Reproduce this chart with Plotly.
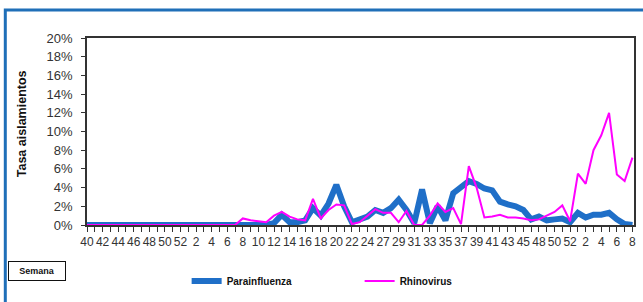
import plotly.graph_objects as go

weeks = list(range(40, 53)) + list(range(1, 25)) + [26] + list(range(27, 46)) + [47] + list(range(48, 53)) + list(range(1, 9))

parainfluenza = [0]*24 + [
    0.2, 1.1, 0.3, 0.3, 0.5, 1.8, 1.0, 2.3, 4.3, 2.0,
    0.3, 0.6, 0.9, 1.6, 1.3, 1.8, 2.7, 1.6, 0.2, 3.8,
    0.2, 2.0, 0.5, 3.4, 4.0, 4.7, 4.4, 3.9, 3.7, 2.5,
    2.2, 2.0, 1.6, 0.6, 0.9, 0.5, 0.6, 0.7, 0.3, 1.3,
    0.8, 1.1, 1.1, 1.3, 0.6, 0.1, 0.0]

rhinovirus = [0]*20 + [
    0.7, 0.5, 0.4, 0.3, 1.0, 1.4, 0.9, 0.6, 0.5, 2.8,
    0.7, 1.6, 2.2, 2.1, 0.1, 0.3, 1.0, 1.7, 1.3, 1.3,
    0.3, 1.5, 0.0, 0.0, 1.0, 2.3, 1.4, 1.8, 0.1, 6.3,
    4.0, 0.8, 0.9, 1.1, 0.8, 0.8, 0.7, 0.5, 0.6, 1.0,
    1.4, 2.1, 0.4, 5.5, 4.4, 8.0, 9.6, 12.0, 5.4, 4.7, 7.2]

y_ticks = list(range(0, 21, 2))

W, H = 643, 302
L, R, T, B = 87, 636, 38, 225

def px(x):
    return (x - L) / (R - L)

def py(y):
    return (B - y) / (B - T)

idx = list(range(len(weeks)))
ticktext = [str(w) if i % 2 == 0 else "" for i, w in enumerate(weeks)]

fig = go.Figure()
fig.add_trace(go.Scatter(x=idx, y=parainfluenza, mode="lines", name="Parainfluenza",
                         line=dict(color="#1F6FC8", width=6)))
fig.add_trace(go.Scatter(x=idx, y=rhinovirus, mode="lines", name="Rhinovirus",
                         line=dict(color="#FF00FF", width=2)))

font = "Liberation Sans, Arial, sans-serif"

fig.update_layout(
    width=W, height=H,
    margin=dict(l=L, r=W - R, t=T, b=H - B),
    paper_bgcolor="#FFFFFF",
    plot_bgcolor="#FFFFFF",
    showlegend=True,
    legend=dict(orientation="h", x=px(187), y=py(281), xanchor="left", yanchor="middle",
                font=dict(family=font, size=10, color="#111111", weight="bold"),
                entrywidth=128, entrywidthmode="pixels",
                bgcolor="rgba(0,0,0,0)", itemclick=False),
    xaxis=dict(range=[0, 70.2], tickmode="array", tickvals=idx, ticktext=ticktext,
               showgrid=False, zeroline=False, showline=True, linecolor="#333333", linewidth=1.5,
               mirror=True, ticks="outside", ticklen=5, tickcolor="#333333", tickangle=0,
               tickfont=dict(family=font, size=12, color="#333333")),
    yaxis=dict(range=[0, 20], tickmode="array", tickvals=y_ticks,
               ticktext=[f"{v}%" for v in y_ticks],
               showgrid=False, zeroline=False, showline=True, linecolor="#333333", linewidth=1.5,
               mirror=True, ticks="outside", ticklen=4, tickcolor="#333333",
               ticklabelstandoff=6,
               tickfont=dict(family=font, size=13, color="#333333")),
    shapes=[
        dict(type="rect", xref="paper", yref="paper",
             x0=px(5), x1=px(700), y0=py(10), y1=py(400),
             line=dict(color="#1F6FB8", width=3), fillcolor="rgba(0,0,0,0)", layer="below"),
    ],
    annotations=[
        dict(text="Tasa aislamientos", xref="paper", yref="paper", x=px(22), y=py(124),
             textangle=-90, showarrow=False, xanchor="center", yanchor="middle",
             font=dict(family=font, size=12.5, color="#111111", weight="bold")),
        dict(text="Semana", xref="paper", yref="paper", x=px(37), y=py(271),
             showarrow=False, xanchor="center", yanchor="middle", width=52, height=14,
             bordercolor="#111111", borderwidth=1, borderpad=2, bgcolor="#FFFFFF",
             font=dict(family=font, size=9, color="#111111", weight="bold")),
    ],
)

fig.write_html("out.html", config={"displayModeBar": False},
               post_script="document.body.style.margin='0';document.body.style.overflow='hidden';")
